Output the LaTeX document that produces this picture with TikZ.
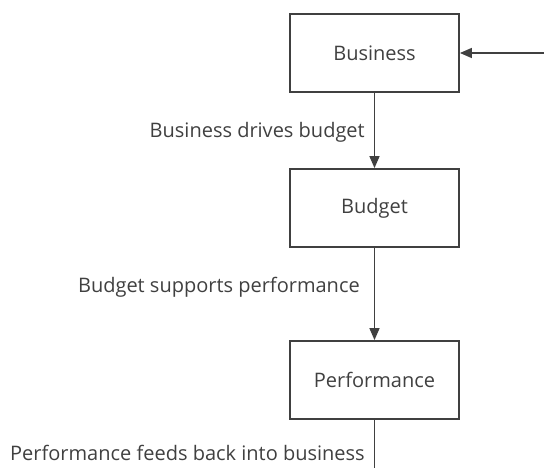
\documentclass[tikz,border=0pt]{standalone}
\usepackage{fontspec}
\setmainfont{Open Sans}
\usetikzlibrary{arrows.meta}
\definecolor{ink}{HTML}{404040}
\begin{document}
\begin{tikzpicture}[x=1pt,y=-1pt,
  stage/.style={draw=ink, line width=1.8pt, minimum width=169pt, minimum height=78pt,
    text=ink, font=\fontsize{20}{22}\selectfont, inner sep=0pt},
  flow/.style={draw=ink, line width=1.5pt, -{Triangle[length=12pt,width=10pt]}},
  plain/.style={draw=ink, line width=1.5pt},
  tag/.style={text=ink, font=\fontsize{20}{22}\selectfont, anchor=east, inner sep=0pt}]
  \useasboundingbox (0,0) rectangle (544,468);
  \node[stage] (business) at (374.5,53) {Business};
  \node[stage] (budget) at (374.5,208) {Budget};
  \node[stage] (performance) at (374.5,380) {Performance};
  \coordinate (loopin) at (544,53);
  \coordinate (loopout) at (374.5,468);
  \draw[flow] (business) -- node[tag, pos=0.52, xshift=-9pt] {Business drives budget} (budget);
  \draw[flow] (budget) -- node[tag, pos=0.43, xshift=-14pt] {Budget supports performance} (performance);
  \draw[plain] (performance) -- node[tag, pos=0.69, xshift=-9pt] {Performance feeds back into business} (loopout);
  \draw[flow] (loopin) -- (business);
\end{tikzpicture}
\end{document}
